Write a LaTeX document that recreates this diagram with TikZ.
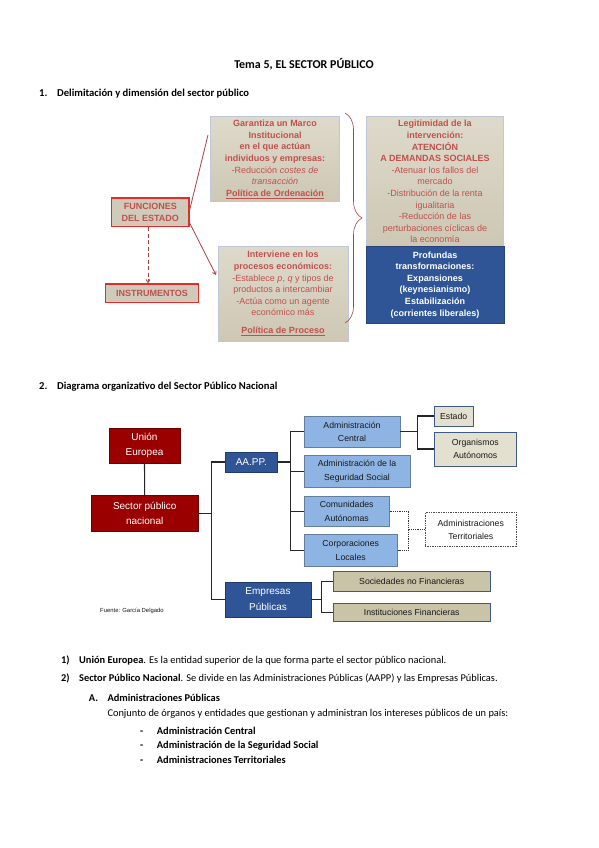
\documentclass[tikz,border=0pt]{standalone}
\usepackage{fontspec}
\setmainfont{Carlito}
\newfontfamily\arial{Liberation Sans}
\usetikzlibrary{decorations.pathreplacing,arrows.meta}
\definecolor{txtred}{HTML}{C0504D}
\definecolor{lnred}{HTML}{A84242}
\definecolor{darkred}{HTML}{9B0000}
\definecolor{dkblue}{HTML}{2F5597}
\definecolor{ltblue}{HTML}{8EB4E3}
\definecolor{beige}{HTML}{E4E0CF}
\definecolor{beige2}{HTML}{C9C3A8}
\definecolor{bxborder}{HTML}{3E5A85}
\definecolor{gbtop}{HTML}{DEDACB}
\definecolor{gbbot}{HTML}{CDC7B4}
\definecolor{gbdraw}{HTML}{BFC7D8}
\definecolor{rbfill}{HTML}{D0CABA}
\definecolor{rbdraw}{HTML}{E52B2B}
\tikzset{
  greybox/.style={draw=gbdraw, line width=0.8pt, top color=gbtop, bottom color=gbbot, inner sep=0pt, align=center, text=txtred,
    font=\arial\fontsize{9}{11.6}\selectfont},
  redbox/.style={draw=rbdraw, line width=1.4pt, fill=rbfill, inner sep=0pt, align=center, text=txtred,
    font=\arial\bfseries\fontsize{9}{11.6}\selectfont},
  bluebox/.style={fill=dkblue, draw=dkblue!80!black, line width=0.4pt, inner sep=0pt, align=center, text=white,
    font=\arial\bfseries\fontsize{9}{11.6}\selectfont},
  orgred/.style={fill=darkred, draw=darkred!70!black, line width=0.4pt, inner sep=0pt, align=center, text=white,
    font=\arial\fontsize{10}{15}\selectfont},
  orgblue/.style={fill=dkblue, draw=dkblue!70!black, line width=0.4pt, inner sep=0pt, align=center, text=white,
    font=\arial\fontsize{10}{15.3}\selectfont},
  orglt/.style={fill=ltblue, draw=ltblue!70!black, line width=0.4pt, inner sep=0pt, align=center, text=black!90,
    font=\arial\fontsize{8.7}{13.3}\selectfont},
  orgbeige/.style={fill=beige, draw=bxborder, line width=0.9pt, inner sep=0pt, align=center, text=black!90,
    font=\arial\fontsize{8.7}{13.3}\selectfont},
  orgbeige2/.style={fill=beige2, draw=bxborder, line width=0.9pt, inner sep=0pt, align=center, text=black!90,
    font=\arial\fontsize{8.7}{13.3}\selectfont},
  orgdot/.style={fill=white, draw=black!70, densely dotted, line width=0.7pt, inner sep=0pt, align=center, text=black!90,
    font=\arial\fontsize{8.7}{13.3}\selectfont},
  conn/.style={draw=black!85, line width=1.1pt},
  dotconn/.style={draw=black!80, densely dotted, line width=0.8pt},
  redconn/.style={draw=lnred, line width=0.8pt},
  body/.style={anchor=mid west, inner sep=0pt, font=\fontsize{10.4}{12}\selectfont},
  bodyb/.style={anchor=mid west, inner sep=0pt, font=\bfseries\fontsize{10.4}{12}\selectfont},
  head/.style={anchor=mid west, inner sep=0pt, font=\bfseries\fontsize{10.6}{12}\selectfont},
}
\begin{document}
\begin{tikzpicture}[x=1pt,y=-1pt]
\useasboundingbox (0,0) rectangle (599,848);
\fill[white] (0,0) rectangle (599,848);

% headings
\node[inner sep=0pt, font=\bfseries\fontsize{12}{14}\selectfont] (title) at (304,64.5) {Tema 5, EL SECTOR PÚBLICO};
\node[head] (h1n) at (39,94) {1.};
\node[head] (h1) at (57,94) {Delimitación y dimensión del sector público};
\node[head] (h2n) at (39,387) {2.};
\node[head] (h2) at (57,387) {Diagrama organizativo del Sector Público Nacional};

% ---- Section 1 diagram
\node[greybox, minimum width=128.6pt, minimum height=85pt] (garant) at (275,159.2)
 {\textbf{Garantiza un Marco}\\ \textbf{Institucional}\\ \textbf{en el que actúan}\\ \textbf{individuos y empresas:}\\ -Reducción \textit{costes de}\\ \textit{transacción}\\ \textbf{\underline{Política de Ordenación}}};
\node[redbox, minimum width=77.3pt, minimum height=28.7pt] (func) at (150.3,212.3) {FUNCIONES\\DEL ESTADO};
\node[redbox, minimum width=92.6pt, minimum height=18.7pt] (instr) at (152,293.3) {INSTRUMENTOS};
\node[greybox, minimum width=130pt, minimum height=95pt] (interv) at (283,293.5)
 {\textbf{Interviene en los}\\ \textbf{procesos económicos:}\\ -Establece \textit{p}, \textit{q} y tipos de\\ productos a intercambiar\\ -Actúa como un agente\\ económico más\\[6pt] \textbf{\underline{Política de Proceso}}};
\node[greybox, minimum width=137pt, minimum height=130pt] (legit) at (435,181.7)
 {\textbf{Legitimidad de la}\\ \textbf{intervención:}\\ \textbf{ATENCIÓN}\\ \textbf{A DEMANDAS SOCIALES}\\ -Atenuar los fallos del\\ mercado\\ -Distribución de la renta\\ igualitaria\\ -Reducción de las\\ perturbaciones cíclicas de\\ la economía};
\node[bluebox, minimum width=138pt, minimum height=76.3pt] (blue) at (435,284.8)
 {Profundas\\ transformaciones:\\ Expansiones\\ (keynesianismo)\\ Estabilización\\ (corrientes liberales)};

\coordinate (ga) at (208,135);
\coordinate (ia) at (216,275);
\draw[redconn] (func.east |- 0,210) -- (ga);
\draw[redconn, -{Straight Barb[length=3pt,width=4pt]}] (func.east |- 0,223) -- (ia);
\draw[redconn, dashed, dash pattern=on 4pt off 2.5pt, line width=0.9pt, -{Straight Barb[length=3pt,width=4pt]}] (func.south -| 148,0) -- (instr.north -| 148,0);
\coordinate (brt) at (345,113);
\coordinate (brb) at (345,323);
\draw[redconn, line width=0.6pt, decorate, decoration={brace, amplitude=17pt}] (brt) -- (brb);

% ---- Section 2 org chart
\node[orgred, minimum width=71pt, minimum height=35pt] (ue) at (144.5,445.2) {Unión\\Europea};
\node[orgred, minimum width=107.3pt, minimum height=35.3pt] (spn) at (144.7,513.3) {Sector público\\nacional};
\node[orgblue, minimum width=52.7pt, minimum height=19.4pt] (aapp) at (251.3,462) {AA.PP.};
\node[orgblue, minimum width=86pt, minimum height=35pt] (emp) at (268,599.2) {Empresas\\Públicas};
\node[orglt, minimum width=96pt, minimum height=31.3pt] (ac) at (352,431.7) {Administración\\Central};
\node[orglt, minimum width=106pt, minimum height=32.3pt] (ass) at (357,471.2) {Administración de la\\Seguridad Social};
\node[orglt, minimum width=85.3pt, minimum height=30.7pt] (ca) at (346.7,511.3) {Comunidades\\Autónomas};
\node[orglt, minimum width=93.3pt, minimum height=32.7pt] (cl) at (350.7,550.3) {Corporaciones\\Locales};
\node[orgbeige, minimum width=39.3pt, minimum height=20pt] (est) at (453.7,416) {Estado};
\node[orgbeige, minimum width=82.7pt, minimum height=34pt] (oa) at (475.3,449) {Organismos\\Autónomos};
\node[orgdot, minimum width=91.7pt, minimum height=34pt] (at) at (470.8,529.7) {Administraciones\\Territoriales};
\node[orgbeige2, minimum width=156.7pt, minimum height=20pt] (snf) at (411.7,581.7) {Sociedades no Financieras};
\node[orgbeige2, minimum width=156.7pt, minimum height=18.4pt] (ifin) at (411.7,612.5) {Instituciones Financieras};
\node[anchor=mid west, inner sep=0pt, font=\arial\fontsize{5.9}{7}\selectfont, text=black!90] (fuente) at (100,610) {Fuente: García Delgado};

\coordinate (j1) at (211.7,0);
\coordinate (j2) at (290.7,0);
\coordinate (j3) at (417.3,0);
\coordinate (j4) at (321.7,0);
\coordinate (j5) at (408.3,0);
\draw[conn] (ue.south) -- (spn.north);
\draw[conn] (spn.east) -- (spn.east -| j1);
\draw[conn] (aapp.west) -- (aapp.west -| j1) |- (emp.west);
\draw[conn] (aapp.east) -- (aapp.east -| j2);
\draw[conn] (ac.west) -- (ac.west -| j2) |- (cl.west);
\draw[conn] (ass.west) -- (ass.west -| j2);
\draw[conn] (ca.west) -- (ca.west -| j2);
\draw[conn] (ac.east) -- (ac.east -| j3);
\draw[conn] (est.west) -- (est.west -| j3) |- (oa.west);
\draw[conn] (emp.east) -- (emp.east -| j4);
\draw[conn] (snf.west) -- (snf.west -| j4) |- (ifin.west);
\draw[dotconn] (ca.east) -- (ca.east -| j5) |- (cl.east);
\draw[dotconn] (at.west) -- (at.west -| j5);

% ---- Body text
\node[bodyb] (l1n) at (61,660.7) {1)};
\node[body] (l1) at (79,660.7) {\textbf{Unión Europea}. Es la entidad superior de la que forma parte el sector público nacional.};
\node[bodyb] (l2n) at (61,679) {2)};
\node[body] (l2) at (79,679) {\textbf{Sector Público Nacional}. Se divide en las Administraciones Públicas (AAPP) y las Empresas Públicas.};
\node[bodyb] (lan) at (88.7,699) {A.};
\node[bodyb] (la) at (107.3,699) {Administraciones Públicas};
\node[body] (lc) at (107.3,714) {Conjunto de órganos y entidades que gestionan y administran los intereses públicos de un país:};
\node[bodyb] (d1) at (140,732.3) {-};
\node[bodyb] (i1) at (156.7,732.3) {Administración Central};
\node[bodyb] (d2) at (140,746.5) {-};
\node[bodyb] (i2) at (156.7,746.5) {Administración de la Seguridad Social};
\node[bodyb] (d3) at (140,761) {-};
\node[bodyb] (i3) at (156.7,761) {Administraciones Territoriales};
\end{tikzpicture}
\end{document}
